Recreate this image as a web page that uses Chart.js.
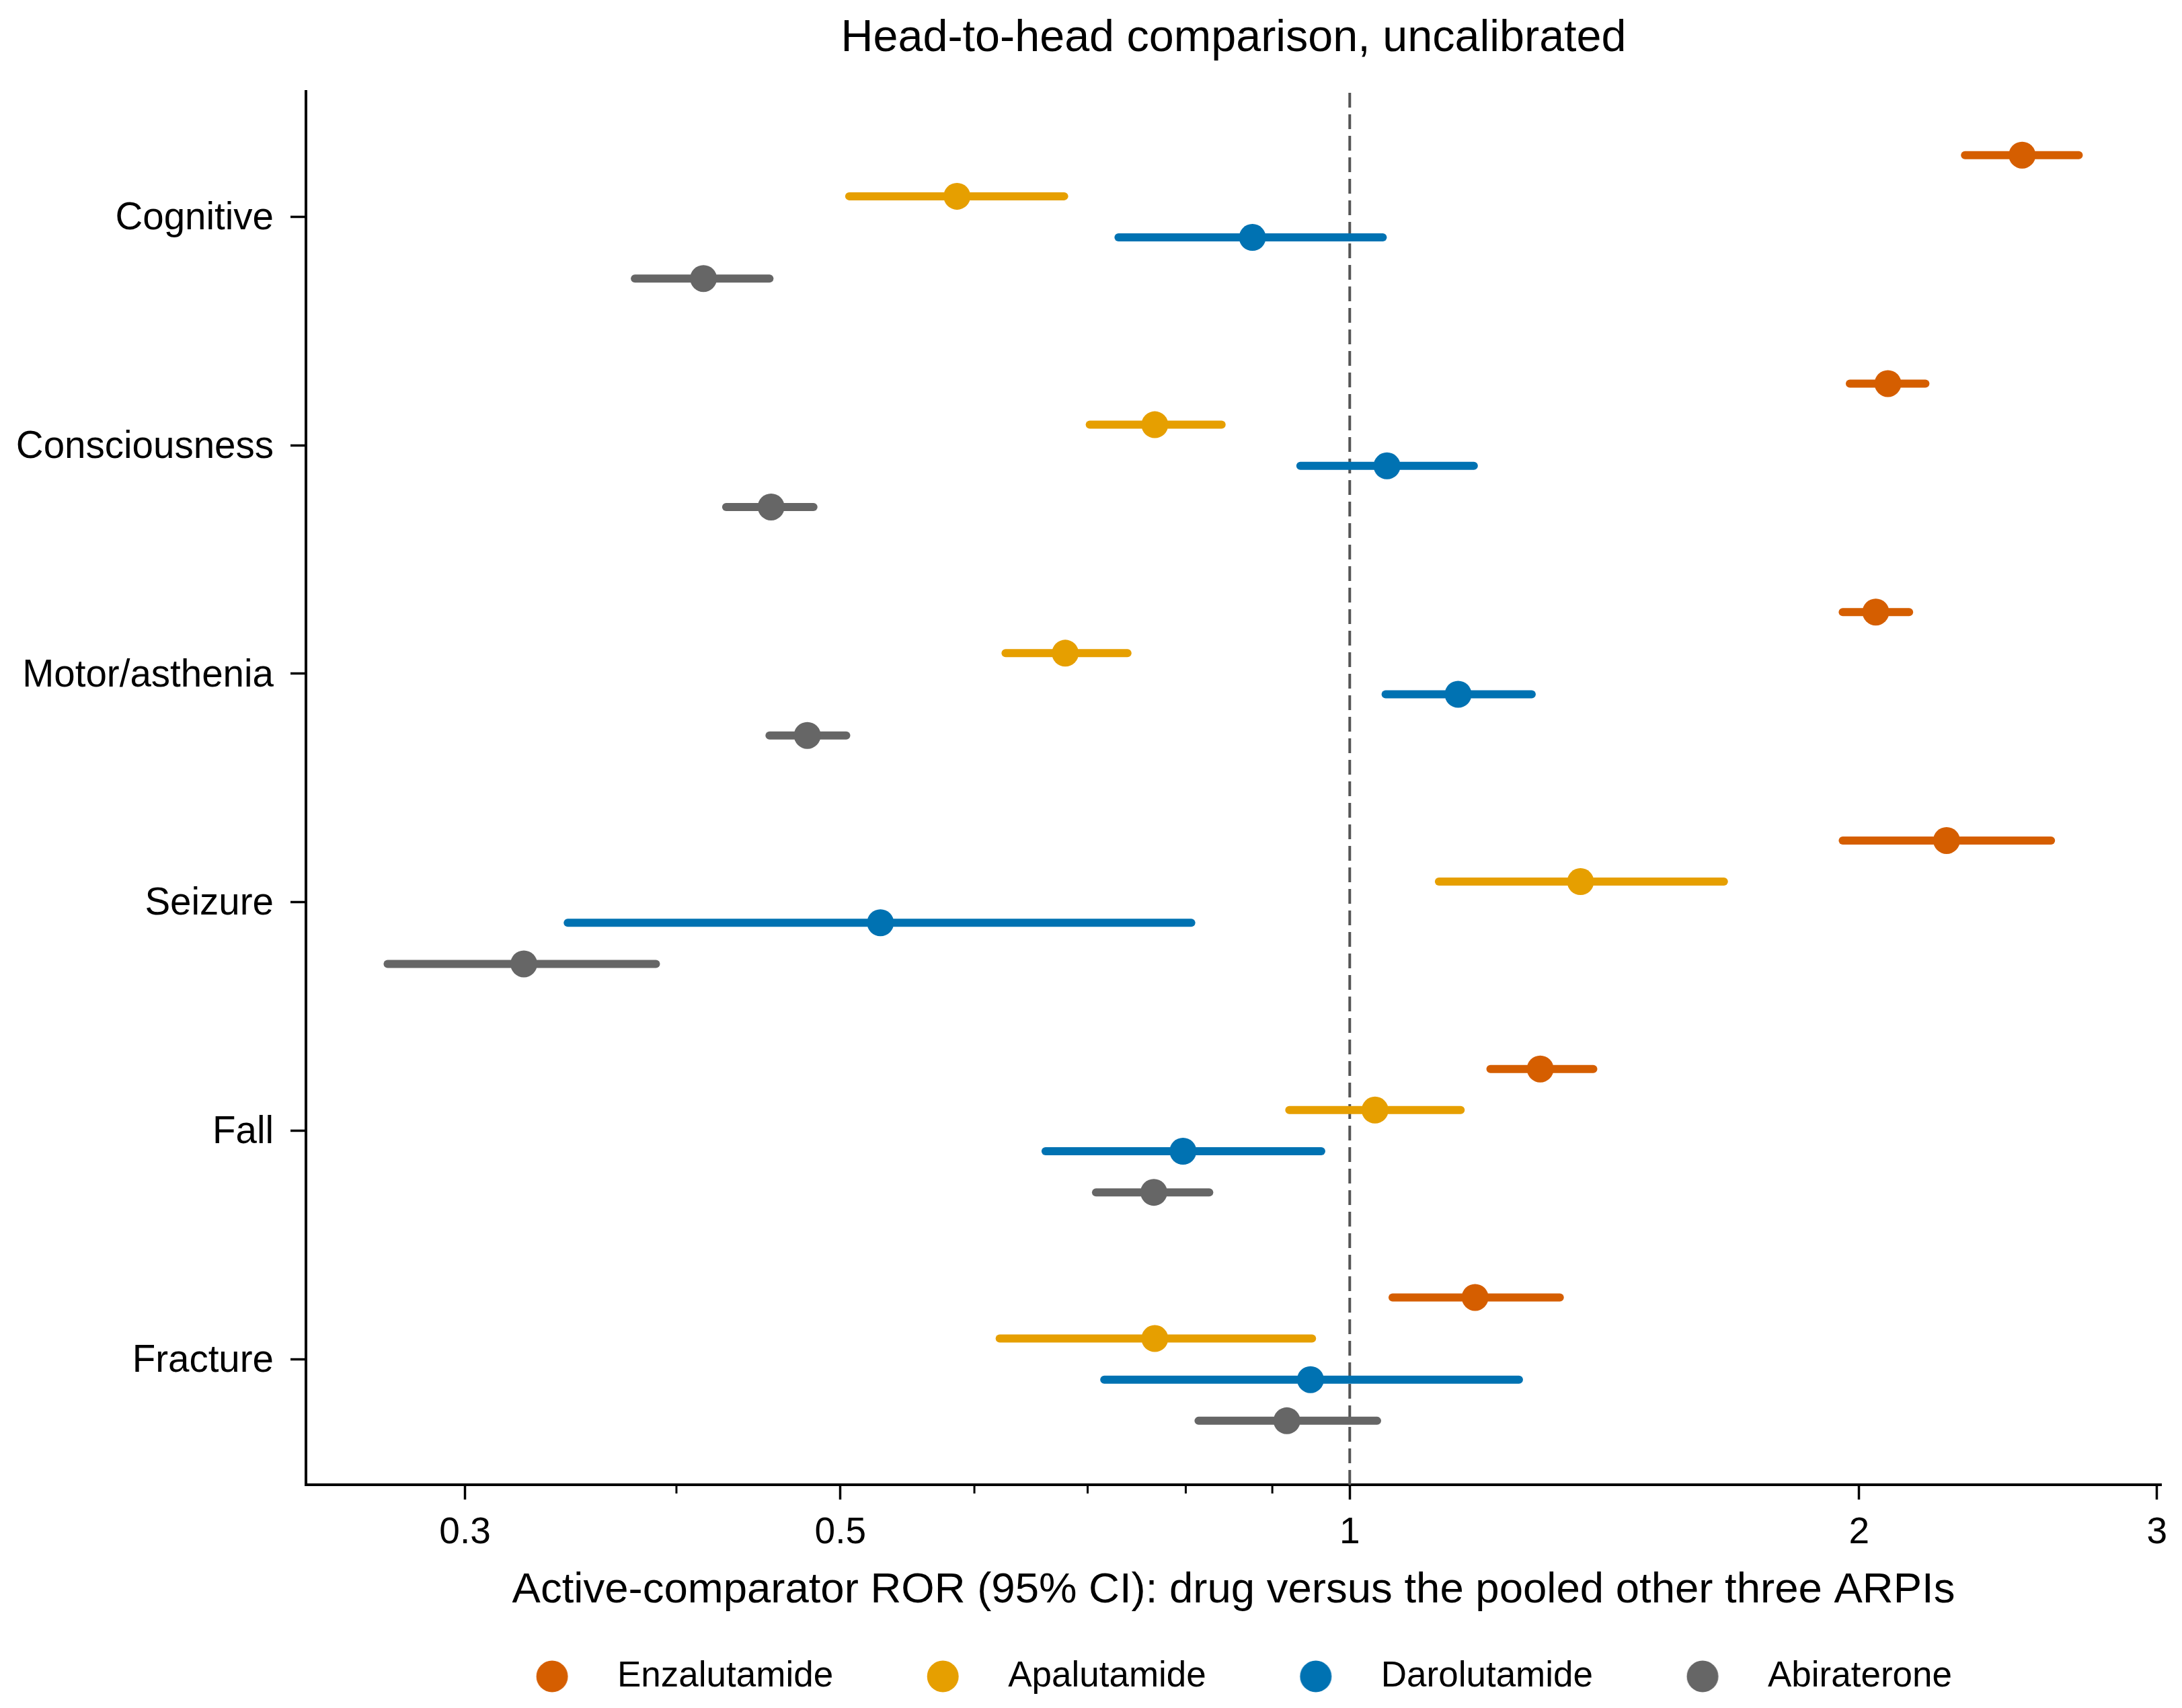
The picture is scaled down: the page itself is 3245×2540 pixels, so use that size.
<!DOCTYPE html>
<html><head><meta charset="utf-8">
<script src="https://cdn.jsdelivr.net/npm/chart.js@4.4.1/dist/chart.umd.min.js"></script>
<style>html,body{margin:0;padding:0;background:#fff}canvas{display:block}</style>
</head><body>
<canvas id="c" width="3245" height="2540"></canvas>
<script>
// ---- data ----
const categories = ['Cognitive','Consciousness','Motor/asthenia','Seizure','Fall','Fracture'];
const drugs = ['Enzalutamide','Apalutamide','Darolutamide','Abiraterone'];
const enzPoint = [2.497, 2.080, 2.046, 2.253, 1.296, 1.186];
const enzLow   = [2.310, 1.975, 1.956, 1.956, 1.211, 1.060];
const enzHigh  = [2.697, 2.189, 2.141, 2.597, 1.393, 1.331];
const apaPoint = [0.586, 0.767, 0.679, 1.369, 1.035, 0.767];
const apaLow   = [0.506, 0.702, 0.626, 1.129, 0.921, 0.621];
const apaHigh  = [0.678, 0.840, 0.739, 1.664, 1.163, 0.950];
const darPoint = [0.876, 1.052, 1.159, 0.528, 0.797, 0.948];
const darLow   = [0.730, 0.935, 1.050, 0.345, 0.661, 0.716];
const darHigh  = [1.046, 1.184, 1.281, 0.806, 0.962, 1.259];
const abiPoint = [0.415, 0.455, 0.478, 0.325, 0.766, 0.918];
const abiLow   = [0.378, 0.428, 0.454, 0.270, 0.708, 0.814];
const abiHigh  = [0.454, 0.482, 0.504, 0.389, 0.826, 1.038];
const majorTicks = [0.3, 0.5, 1, 2, 3];
const minorTicks = [0.4, 0.6, 0.7, 0.8, 0.9];
const referenceValue = 1;

// ---- styling ----
const colors = ['#D55E00', '#E69F00', '#0072B2', '#666666'];
const offsets = [-0.27, -0.09, 0.09, 0.27];
const FONT = "'Liberation Sans', Arial, Helvetica, sans-serif";
const series = [
  {p: enzPoint, lo: enzLow, hi: enzHigh},
  {p: apaPoint, lo: apaLow, hi: apaHigh},
  {p: darPoint, lo: darLow, hi: darHigh},
  {p: abiPoint, lo: abiLow, hi: abiHigh}
];
const Y_MIN = -0.55, Y_MAX = 5.55;

const datasets = [];
series.forEach((s, d) => {
  datasets.push({
    label: drugs[d],
    data: s.p.map((v, i) => ({x: v, y: i + offsets[d]})),
    backgroundColor: colors[d], borderColor: colors[d],
    pointRadius: 20, pointBorderWidth: 0, pointHoverRadius: 20,
    showLine: false, order: 0
  });
});
series.forEach((s, d) => {
  categories.forEach((c, i) => {
    datasets.push({
      label: '_ci',
      data: [{x: s.lo[i], y: i + offsets[d]}, {x: s.hi[i], y: i + offsets[d]}],
      borderColor: colors[d], backgroundColor: colors[d],
      borderWidth: 12, borderCapStyle: 'round', pointRadius: 0,
      showLine: true, order: 1
    });
  });
});
datasets.push({
  label: '_ref',
  data: [{x: referenceValue, y: Y_MAX}, {x: referenceValue, y: Y_MIN}],
  borderColor: '#555555', borderWidth: 4, borderDash: [22, 10],
  pointRadius: 0, showLine: true, order: 2
});

function makeDot(color) {
  const cv = document.createElement('canvas');
  cv.width = 80; cv.height = 48;
  const g = cv.getContext('2d');
  g.fillStyle = color;
  g.beginPath(); g.arc(32.25, 24, 23.5, 0, Math.PI * 2); g.fill();
  return cv;
}
const dots = colors.map(makeDot);

const minorTickPlugin = {
  id: 'minorTicks',
  afterDraw(chart) {
    const xs = chart.scales.x, ctx = chart.ctx;
    ctx.save();
    ctx.strokeStyle = '#000'; ctx.lineWidth = 3;
    minorTicks.forEach(v => {
      const px = xs.getPixelForValue(v);
      ctx.beginPath(); ctx.moveTo(px, xs.top); ctx.lineTo(px, xs.top + 13); ctx.stroke();
    });
    ctx.restore();
  }
};

new Chart(document.getElementById('c'), {
  type: 'scatter',
  data: {datasets},
  plugins: [minorTickPlugin],
  options: {
    responsive: false, devicePixelRatio: 1, animation: false, events: [],
    layout: {padding: {left: 0, right: 31, top: 0, bottom: 10.5}},
    plugins: {
      tooltip: {enabled: false},
      title: {
        display: true, fullSize: false,
        text: 'Head-to-head comparison, uncalibrated',
        color: '#000', font: {family: FONT, size: 66.5, weight: 'normal'},
        padding: {top: 17.4, bottom: 38.4}
      },
      legend: {
        display: true, position: 'bottom', fullSize: false,
        labels: {
          usePointStyle: true, pointStyleWidth: 125.5, padding: 108,
          color: '#000', font: {family: FONT, size: 53},
          generateLabels: () => drugs.map((d, i) => ({
            text: d, fillStyle: colors[i], strokeStyle: colors[i], lineWidth: 0,
            pointStyle: dots[i], hidden: false, datasetIndex: i, fontColor: '#000'
          }))
        }
      }
    },
    scales: {
      x: {
        type: 'logarithmic', position: 'bottom',
        min: 0.2416, max: 3.017,
        afterBuildTicks: s => { s.ticks = majorTicks.concat(minorTicks).sort((a, b) => a - b).map(v => ({value: v})); },
        afterFit: s => { s.height = 150.5; },
        ticks: {
          autoSkip: false, maxRotation: 0, minRotation: 0, padding: 17,
          color: '#000', font: {family: FONT, size: 55},
          callback: v => majorTicks.includes(v) ? String(v) : ''
        },
        grid: {
          display: true, drawOnChartArea: false, drawTicks: true, tickLength: 22,
          tickWidth: 3.5,
          tickColor: c => (c.tick && majorTicks.includes(c.tick.value)) ? '#000' : 'rgba(0,0,0,0)'
        },
        border: {display: true, color: '#000', width: 4},
        title: {
          display: true,
          text: 'Active-comparator ROR (95% CI): drug versus the pooled other three ARPIs',
          color: '#000', font: {family: FONT, size: 63.5},
          padding: {top: 0, bottom: -45}
        }
      },
      y: {
        type: 'linear', reverse: true, min: Y_MIN, max: Y_MAX,
        afterBuildTicks: s => { s.ticks = categories.map((c, i) => ({value: i})); },
        afterFit: s => { s.width = 455; },
        ticks: {
          autoSkip: false, padding: 25, labelOffset: 3, color: '#000',
          font: {family: FONT, size: 56.5},
          callback: v => categories[v]
        },
        grid: {display: true, drawOnChartArea: false, drawTicks: true, tickLength: 23, tickWidth: 3.5, tickColor: '#000'},
        border: {display: true, color: '#000', width: 4}
      }
    }
  }
});
</script>
</body></html>
